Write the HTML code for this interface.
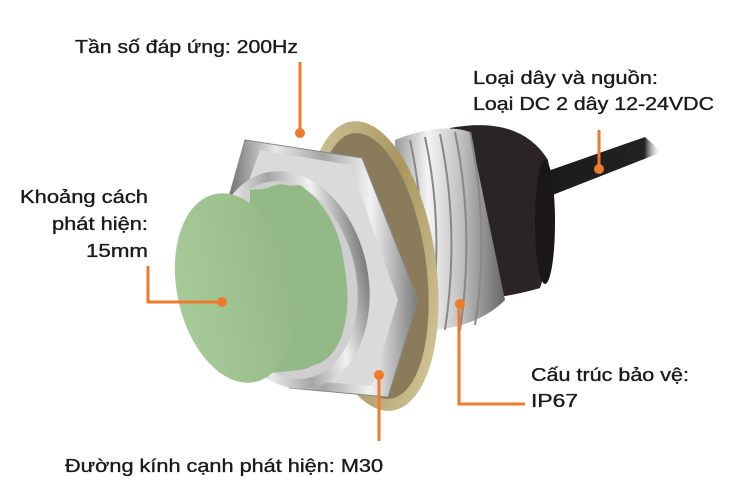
<!DOCTYPE html>
<html><head><meta charset="utf-8"><style>
html,body{margin:0;padding:0;background:#fff;}
svg{display:block;}
text{font-family:"Liberation Sans",sans-serif;fill:#1a1a1a;font-size:18px;stroke:#1a1a1a;stroke-width:0.35;}
</style></head><body>
<svg width="750" height="500" viewBox="0 0 750 500" xmlns="http://www.w3.org/2000/svg">
<defs>
<linearGradient id="chrome" x1="0" y1="0" x2="1" y2="0">
<stop offset="0" stop-color="#6e6e6e"/><stop offset="0.25" stop-color="#e8e8e8"/><stop offset="0.5" stop-color="#a5a5a5"/><stop offset="0.75" stop-color="#f2f2f2"/><stop offset="1" stop-color="#7a7a7a"/></linearGradient>
<linearGradient id="thread" x1="0" y1="0" x2="1" y2="0">
<stop offset="0" stop-color="#9a9a9a"/><stop offset="0.3" stop-color="#f4f4f4"/><stop offset="0.6" stop-color="#c0c0c0"/><stop offset="1" stop-color="#666"/></linearGradient>
<linearGradient id="gold" x1="0" y1="0" x2="1" y2="1">
<stop offset="0" stop-color="#d8cfa8"/><stop offset="0.5" stop-color="#a8965e"/><stop offset="1" stop-color="#dcd2a8"/></linearGradient>
<linearGradient id="green" x1="0" y1="0" x2="1" y2="0">
<stop offset="0" stop-color="#a6cb99"/><stop offset="1" stop-color="#94b987"/></linearGradient>
<linearGradient id="cable" x1="0" y1="0" x2="1" y2="0">
<stop offset="0" stop-color="#1a1a1a"/><stop offset="0.85" stop-color="#222"/><stop offset="1" stop-color="#fff" stop-opacity="0"/></linearGradient>
</defs>
<!-- cable -->
<polygon points="545,172 645,137 662,152 550,196" fill="url(#cable)"/>
<!-- collar -->
<path d="M450,128 Q520,115 548,160 Q560,230 540,288 Q500,300 455,300 Z" fill="#2a2424"/>
<ellipse cx="545" cy="222" rx="10" ry="62" fill="#1b1717"/>
<!-- threaded body -->
<path d="M395,140 Q440,122 470,132 L505,300 Q470,335 400,330 Z" fill="url(#thread)"/>
<g stroke="#888" stroke-width="2" fill="none">
<path d="M410,140 Q430,230 415,325"/><path d="M425,137 Q445,230 430,328"/><path d="M440,134 Q460,230 445,330"/><path d="M455,132 Q475,230 460,330"/><path d="M470,132 Q490,230 475,325"/>
</g>
<!-- washer -->
<ellipse cx="372" cy="266" rx="64" ry="146" transform="rotate(-8 372 266)" fill="url(#gold)"/>
<ellipse cx="372" cy="266" rx="54" ry="134" transform="rotate(-8 372 266)" fill="#8a7c5a"/>
<!-- hex nut -->
<polygon points="245,140 362,158 418,300 388,397 290,388 228,200" fill="url(#chrome)" stroke="#888"/>
<polygon points="260,150 350,165 398,300 372,386 300,380 240,205" fill="#dadada"/>
<ellipse cx="290" cy="280" rx="78" ry="110" transform="rotate(-12 290 280)" fill="url(#chrome)"/>
<ellipse cx="288" cy="280" rx="68" ry="100" transform="rotate(-12 288 280)" fill="#cfcfcf"/>
<!-- green cap -->
<path d="M250,190 L300,185 Q350,220 345,300 Q335,365 300,370 L250,375 Z" fill="#93b986"/>
<ellipse cx="295" cy="275" rx="50" ry="92" transform="rotate(-12 295 275)" fill="#93b986"/>
<ellipse cx="235" cy="288" rx="58" ry="96" transform="rotate(-12 235 288)" fill="url(#green)"/>
<!-- connectors -->
<g stroke="#ee7a2b" stroke-width="3" fill="none">
<path d="M300,62 V132"/><path d="M599,130 V168"/><path d="M148,266 V302 H221"/>
<path d="M459,305 V404 H525"/><path d="M379,376 V441"/>
</g>
<g fill="#ee7a2b">
<circle cx="300" cy="133" r="5"/><circle cx="599" cy="169" r="5"/><circle cx="222" cy="302" r="5"/>
<circle cx="460" cy="304" r="5"/><circle cx="379" cy="375" r="5"/>
</g>
<!-- labels -->
<text x="75" y="53" textLength="223" lengthAdjust="spacingAndGlyphs">Tần số đáp ứng: 200Hz</text>
<text x="473" y="84" textLength="185" lengthAdjust="spacingAndGlyphs">Loại dây và nguồn:</text>
<text x="473" y="110" textLength="241" lengthAdjust="spacingAndGlyphs">Loại DC 2 dây 12-24VDC</text>
<text x="20" y="203" textLength="128" lengthAdjust="spacingAndGlyphs">Khoảng cách</text>
<text x="52" y="230" textLength="96" lengthAdjust="spacingAndGlyphs">phát hiện:</text>
<text x="86" y="257" textLength="62" lengthAdjust="spacingAndGlyphs">15mm</text>
<text x="531" y="381" textLength="158" lengthAdjust="spacingAndGlyphs">Cấu trúc bảo vệ:</text>
<text x="531" y="407" textLength="47" lengthAdjust="spacingAndGlyphs">IP67</text>
<text x="65" y="472" textLength="318" lengthAdjust="spacingAndGlyphs">Đường kính cạnh phát hiện: M30</text>
</svg>
</body></html>
